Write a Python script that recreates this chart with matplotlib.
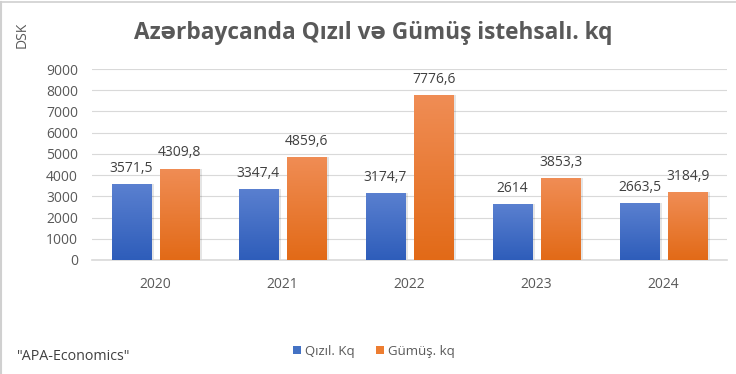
import numpy as np
import matplotlib
matplotlib.use("Agg")
import matplotlib.pyplot as plt
from matplotlib.colors import LinearSegmentedColormap

plt.rcParams['font.family'] = ['Open Sans', 'DejaVu Sans']

years = ['2020', '2021', '2022', '2023', '2024']
gold = [3571.5, 3347.4, 3174.7, 2614, 2663.5]
silver = [4309.8, 4859.6, 7776.6, 3853.3, 3184.9]
gold_labels = ['3571,5', '3347,4', '3174,7', '2614', '2663,5']
silver_labels = ['4309,8', '4859,6', '7776,6', '3853,3', '3184,9']

fig = plt.figure(figsize=(7.36, 3.74), dpi=100)
ax = fig.add_axes([0.125, 0.305, 0.863, 0.5105])

x = np.arange(len(years))
w = 0.31
off = 0.19

blue_cm = LinearSegmentedColormap.from_list('b', ['#2e5dba', '#5a80d0'])
orange_cm = LinearSegmentedColormap.from_list('o', ['#e26a17', '#f08d55'])
grad = np.linspace(0, 1, 256).reshape(-1, 1)


def gradient_bars(xs, vals, cmap, base):
    bars = ax.bar(xs, vals, w, color=base, zorder=3)
    for b in bars:
        # soft shadow
        ax.bar(b.get_x() + b.get_width() / 2 + 0.012, b.get_height(), w + 0.02,
               color='#000000', alpha=0.10, zorder=2, linewidth=0)
        im = ax.imshow(grad, cmap=cmap, aspect='auto', origin='lower',
                       extent=[b.get_x(), b.get_x() + b.get_width(), 0, b.get_height()],
                       zorder=4)
        im.set_clip_path(b)
    return bars


gb = gradient_bars(x - off, gold, blue_cm, '#4472c4')
sb = gradient_bars(x + off, silver, orange_cm, '#ed7d31')

for xi, v, t in zip(x - off, gold, gold_labels):
    ax.text(xi, v + 380, t, ha='center', va='bottom', fontsize=10, color='#404040')
for xi, v, t in zip(x + off, silver, silver_labels):
    ax.text(xi, v + 380, t, ha='center', va='bottom', fontsize=10, color='#404040')

ax.set_xlim(-0.5, 4.5)
ax.set_ylim(0, 9000)
ax.set_yticks(range(0, 9001, 1000))
ax.set_xticks(x)
ax.set_xticklabels(years)
ax.tick_params(axis='both', length=0, labelsize=10, colors='#595959')
ax.tick_params(axis='x', pad=12)
ax.tick_params(axis='y', pad=10)
ax.grid(axis='y', color='#d9d9d9', linewidth=0.8, zorder=0)
for s in ['top', 'right', 'left']:
    ax.spines[s].set_visible(False)
ax.spines['bottom'].set_color('#d9d9d9')
ax.spines['bottom'].set_linewidth(1.2)

fig.text(373 / 736, 1 - 33 / 374, 'Azərbaycanda Qızıl və Gümüş istehsalı. kq',
         ha='center', va='center', fontsize=16.3, fontweight='bold', color='#595959')
fig.text(22 / 736, 1 - 35 / 374, 'DSK', rotation=90, ha='center', va='center',
         fontsize=10, color='#595959')
fig.text(17 / 736, 1 - 356 / 374, '"APA-Economics"', ha='left', va='center',
         fontsize=10.3, color='#404040')

leg = fig.legend([gb, sb], ['Qızıl. Kq', 'Gümüş. kq'], loc='center',
                 bbox_to_anchor=(374 / 736, 1 - 351 / 374), ncol=2, frameon=False,
                 fontsize=9.5, handlelength=0.6, handleheight=0.6, handletextpad=0.3,
                 columnspacing=1.6, labelcolor='#595959')

# sheet border lines
fig.add_artist(plt.Line2D([0.0015, 0.0015], [0, 0.995], color='#d0d0d0', lw=1.5))
fig.add_artist(plt.Line2D([0, 1], [0.995, 0.995], color='#d0d0d0', lw=1.2))

fig.savefig('out.png', dpi=100)
